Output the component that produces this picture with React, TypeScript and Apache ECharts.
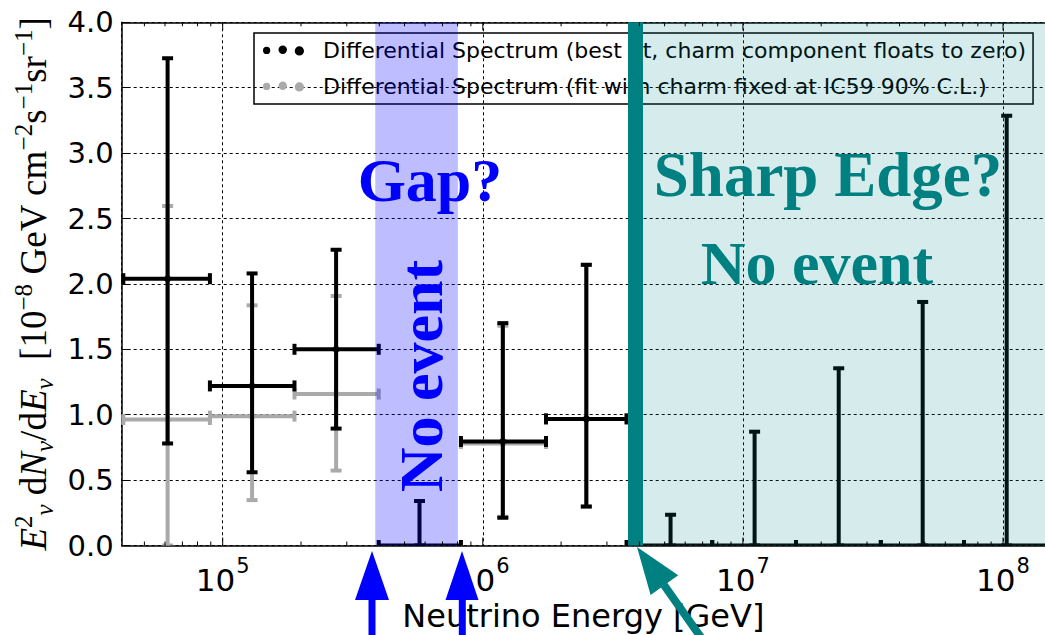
import React, { useEffect, useRef } from "react";
import * as echarts from "echarts";

const NAME_BEST = "Differential Spectrum (best fit, charm component floats to zero)";
const NAME_CHARM = "Differential Spectrum (fit with charm fixed at IC59 90% C.L.)";

// Energy bins [GeV]
const binLowEdges = [41500, 89300, 188800, 398000, 824000, 1.75e6, 3.57e6, 7.62e6, 1.6e7, 3.39e7, 7.08e7];
const binHighEdges = [89300, 188800, 398000, 824000, 1.75e6, 3.57e6, 7.62e6, 1.6e7, 3.39e7, 7.08e7, 1.48e8];
const binCenters = [61400, 129700, 272900, 571000, 1.194e6, 2.5e6, 5.27e6, 1.109e7, 2.335e7, 4.91e7, 1.033e8];

// best fit (black): central value (null = upper limit), lower, upper
const bestValue = [2.04, 1.22, 1.5, null, 0.795, 0.968, null, null, null, null, null];
const bestLower = [0.78, 0.56, 0.894, 0, 0.212, 0.298, 0, 0, 0, 0, 0];
const bestUpper = [3.726, 2.08, 2.262, 0.34, 1.7, 2.146, 0.235, 0.87, 1.355, 1.862, 3.286];

// charm fixed (gray)
const charmValue = [0.963, 0.989, 1.158, null, 0.78, 0.968];
const charmLower = [0, 0.347, 0.573, null, 0.22, 0.298];
const charmUpper = [2.596, 1.836, 1.908, null, 1.68, 2.146];

const xMin = 40900;
const xMax = 1.45e8;
const yMin = 0;
const yMax = 4;
const yStep = 0.5;

const gapBand = [386000, 802000];
const edgeLine = 3.86e6;

const majorTicks = [1e5, 1e6, 1e7, 1e8];
const minorMultipliers = [2, 3, 4, 5, 6, 7, 8, 9];
const decades = [1e4, 1e5, 1e6, 1e7, 1e8];

function circlePath(cx: number, cy: number, r: number) {
  return `M${cx - r},${cy} a${r},${r} 0 1,0 ${2 * r},0 a${r},${r} 0 1,0 ${-2 * r},0 Z`;
}
const DOTS =
  "path://" + circlePath(4, 6.5, 3.6) + " " + circlePath(20, 5.8, 4.2) + " " + circlePath(36.5, 7, 4.6);

function buildRows(vals: (number | null)[], lo: (number | null)[], hi: (number | null)[]) {
  const rows: number[][] = [];
  vals.forEach((v, i) => {
    if (hi[i] === null) return;
    const isUl = v === null ? 1 : 0;
    rows.push([binCenters[i], v === null ? 0 : v, binLowEdges[i], binHighEdges[i], lo[i] as number, hi[i] as number, isUl]);
  });
  return rows;
}

function makeRender(color: string) {
  return (params: any, api: any) => {
    const xc = api.value(0);
    const yv = api.value(1);
    const xl = api.value(2);
    const xh = api.value(3);
    const yl = api.value(4);
    const yh = api.value(5);
    const ul = api.value(6);
    const c = api.coord([xc, yv]);
    const l = api.coord([xl, yv]);
    const h = api.coord([xh, yv]);
    const lo = api.coord([xc, yl]);
    const hi = api.coord([xc, yh]);
    const cap = 5.5;
    const st = { stroke: color, lineWidth: 4 };
    const children: any[] = [
      { type: "line", shape: { x1: l[0], y1: l[1], x2: h[0], y2: h[1] }, style: st },
      { type: "line", shape: { x1: l[0], y1: l[1] - cap, x2: l[0], y2: l[1] + cap }, style: st },
      { type: "line", shape: { x1: h[0], y1: h[1] - cap, x2: h[0], y2: h[1] + cap }, style: st },
      { type: "line", shape: { x1: lo[0], y1: lo[1], x2: hi[0], y2: hi[1] }, style: st },
      { type: "line", shape: { x1: lo[0] - cap, y1: lo[1], x2: lo[0] + cap, y2: lo[1] }, style: st },
      { type: "line", shape: { x1: hi[0] - cap, y1: hi[1], x2: hi[0] + cap, y2: hi[1] }, style: st },
    ];
    if (!ul) {
      children.push({ type: "circle", shape: { cx: c[0], cy: c[1], r: 3.5 }, style: { fill: color } });
    }
    return { type: "group", children };
  };
}

function buildTicks() {
  const rows: number[][] = [];
  majorTicks.forEach((t) => rows.push([t, 1]));
  decades.forEach((d) =>
    minorMultipliers.forEach((m) => {
      const v = d * m;
      if (v > xMin && v < xMax) rows.push([v, 0]);
    })
  );
  return rows;
}

export default function App() {
  const ref = useRef<HTMLDivElement>(null);
  useEffect(() => {
    if (!ref.current) return;
    const chart = echarts.init(ref.current, null, { renderer: "svg" });
    const bestRows = buildRows(bestValue, bestLower, bestUpper);
    const charmRows = buildRows(charmValue, charmLower, charmUpper);
    const tickRows = buildTicks();

    const option: any = {
      animation: false,
      backgroundColor: "#ffffff",
      grid: {
        left: 121.7,
        top: 22.3,
        right: 0,
        bottom: 89.5,
        containLabel: false,
        outerBoundsMode: "none",
      },
      legend: {
        left: 254,
        top: 33,
        orient: "vertical",
        align: "left",
        padding: [4, 7, 4, 9],
        itemGap: 9,
        itemWidth: 41,
        itemHeight: 12,
        borderColor: "#000",
        borderWidth: 1.5,
        borderRadius: 0,
        backgroundColor: "transparent",
        textStyle: { fontFamily: "DejaVu Sans", fontSize: 22, color: "#000", lineHeight: 27, padding: [0, 0, 0, 14] },
        data: [
          { name: NAME_BEST, icon: DOTS, itemStyle: { color: "#000" } },
          { name: NAME_CHARM, icon: DOTS, itemStyle: { color: "#aaaaaa" } },
        ],
      },
      xAxis: [
        {
          type: "log",
          logBase: 10,
          min: xMin,
          max: xMax,
          name: "Neutrino Energy [GeV]",
          nameLocation: "middle",
          nameGap: 50,
          nameTextStyle: { fontFamily: "DejaVu Sans", fontSize: 32, color: "#000" },
          axisLine: { show: true, lineStyle: { color: "#000", width: 1.5 } },
          axisTick: { show: false },
          splitLine: { show: true, lineStyle: { color: "#000", width: 1, type: [3, 3] } },
          axisLabel: {
            showMinLabel: false,
            showMaxLabel: false,
            margin: 10,
            formatter: (v: number) => {
              const e = Math.log10(v);
              const r = Math.round(e);
              if (Math.abs(e - r) > 0.01) return "";
              return `{b|10}{s|${r}}`;
            },
            rich: {
              b: { fontFamily: "DejaVu Sans", fontSize: 31, color: "#000", lineHeight: 40, verticalAlign: "bottom" },
              s: { fontFamily: "DejaVu Sans", fontSize: 21, color: "#000", lineHeight: 40, verticalAlign: "top", padding: [0, 0, 0, 1] },
            },
          },
        },
        {
          type: "log",
          logBase: 10,
          min: xMin,
          max: xMax,
          position: "top",
          axisLine: { show: true, lineStyle: { color: "#000", width: 1.5 } },
          axisTick: { show: false },
          axisLabel: { show: false },
          splitLine: { show: false },
        },
      ],
      yAxis: {
        type: "value",
        min: yMin,
        max: yMax,
        interval: yStep,
        name:
          "{i|E}{sp|2}{sb|ν}{r| d}{i|N}{sb|ν}{r|/d}{i|E}{sb|ν}{r|  [10}{sp|−8}{r| GeV cm}{sp|−2}{r|s}{sp|−1}{r|sr}{sp|−1}{r|]}",
        nameLocation: "middle",
        nameRotate: 90,
        nameGap: 62,
        nameTextStyle: {
          rich: {
            i: { fontFamily: "Liberation Serif", fontStyle: "italic", fontSize: 37, color: "#000", lineHeight: 46 },
            r: { fontFamily: "Liberation Serif", fontSize: 37, color: "#000", lineHeight: 46 },
            sp: { fontFamily: "Liberation Serif", fontSize: 25, color: "#000", lineHeight: 25, verticalAlign: "top" },
            sb: { fontFamily: "Liberation Serif", fontStyle: "italic", fontSize: 25, color: "#000", lineHeight: 25, verticalAlign: "bottom" },
          },
        },
        axisLine: { show: true, lineStyle: { color: "#000", width: 1.5 } },
        axisTick: { show: true, inside: true, length: 8, lineStyle: { color: "#000", width: 1 } },
        splitLine: { show: true, lineStyle: { color: "#000", width: 1, type: [3, 3] } },
        axisLabel: {
          margin: 8,
          fontFamily: "DejaVu Sans",
          fontSize: 29,
          color: "#000",
          formatter: (v: number) => v.toFixed(1),
        },
      },
      series: [
        {
          name: NAME_CHARM,
          type: "custom",
          z: 2,
          clip: true,
          itemStyle: { color: "#aaaaaa" },
          renderItem: makeRender("#aaaaaa"),
          encode: { x: 0, y: 1 },
          data: charmRows,
        },
        {
          name: NAME_BEST,
          type: "custom",
          z: 3,
          clip: true,
          itemStyle: { color: "#000" },
          renderItem: makeRender("#000000"),
          encode: { x: 0, y: 1 },
          data: bestRows,
        },
        {
          name: "bands",
          type: "line",
          z: 4,
          data: [],
          silent: true,
          markArea: {
            silent: true,
            z: 4,
            data: [
              [{ xAxis: gapBand[0], itemStyle: { color: "rgba(0,0,255,0.26)" } }, { xAxis: gapBand[1] }],
              [{ xAxis: edgeLine, itemStyle: { color: "rgba(0,128,128,0.16)" } }, { xAxis: xMax }],
            ],
          },
          markLine: {
            silent: true,
            z: 5,
            symbol: "none",
            label: { show: false },
            lineStyle: { color: "#008080", width: 15, type: "solid" },
            data: [{ xAxis: edgeLine }],
          },
        },
        {
          name: "ticks",
          type: "custom",
          z: 6,
          silent: true,
          renderItem: (params: any, api: any) => {
            const v = api.value(0);
            const major = api.value(1);
            const b = api.coord([v, yMin]);
            const t = api.coord([v, yMax]);
            const len = major ? 8 : 4;
            const st = { stroke: "#000", lineWidth: 1 };
            return {
              type: "group",
              children: [
                { type: "line", shape: { x1: b[0], y1: b[1], x2: b[0], y2: b[1] - len }, style: st },
                { type: "line", shape: { x1: t[0], y1: t[1], x2: t[0], y2: t[1] + len }, style: st },
              ],
            };
          },
          encode: { x: 0 },
          data: tickRows,
        },
      ],
      graphic: [
        {
          type: "text",
          z: 100,
          x: 430,
          y: 180,
          style: { text: "Gap?", fontFamily: "Liberation Serif", fontWeight: "bold", fontSize: 62, fill: "#0000ff", align: "center", verticalAlign: "middle" },
        },
        {
          type: "text",
          z: 100,
          x: 421,
          y: 376,
          rotation: Math.PI / 2,
          style: { text: "No event", fontFamily: "Liberation Serif", fontWeight: "bold", fontSize: 62, fill: "#0000ff", align: "center", verticalAlign: "middle" },
        },
        {
          type: "text",
          z: 100,
          x: 828,
          y: 175,
          style: { text: "Sharp Edge?", fontFamily: "Liberation Serif", fontWeight: "bold", fontSize: 63, fill: "#008080", align: "center", verticalAlign: "middle" },
        },
        {
          type: "text",
          z: 100,
          x: 817,
          y: 263,
          style: { text: "No event", fontFamily: "Liberation Serif", fontWeight: "bold", fontSize: 62, fill: "#008080", align: "center", verticalAlign: "middle" },
        },
        { type: "polygon", z: 100, shape: { points: [[372, 551], [355, 600], [389, 600]] }, style: { fill: "#0000ff" } },
        { type: "rect", z: 100, shape: { x: 368.5, y: 598, width: 7, height: 40 }, style: { fill: "#0000ff" } },
        { type: "polygon", z: 100, shape: { points: [[462, 551], [445.5, 600], [478.5, 600]] }, style: { fill: "#0000ff" } },
        { type: "rect", z: 100, shape: { x: 458.8, y: 598, width: 7, height: 40 }, style: { fill: "#0000ff" } },
        { type: "polygon", z: 100, shape: { points: [[637, 547], [650.6, 595.1], [678.2, 575.3]] }, style: { fill: "#008080" } },
        { type: "line", z: 100, shape: { x1: 664, y1: 585, x2: 707, y2: 646 }, style: { stroke: "#008080", lineWidth: 8 } },
      ],
    };
    chart.setOption(option);
    return () => chart.dispose();
  }, []);
  return (
    <div
      ref={ref}
      style={{ position: "fixed", left: 0, top: 0, width: 1045, height: 635, background: "#fff" }}
    />
  );
}
